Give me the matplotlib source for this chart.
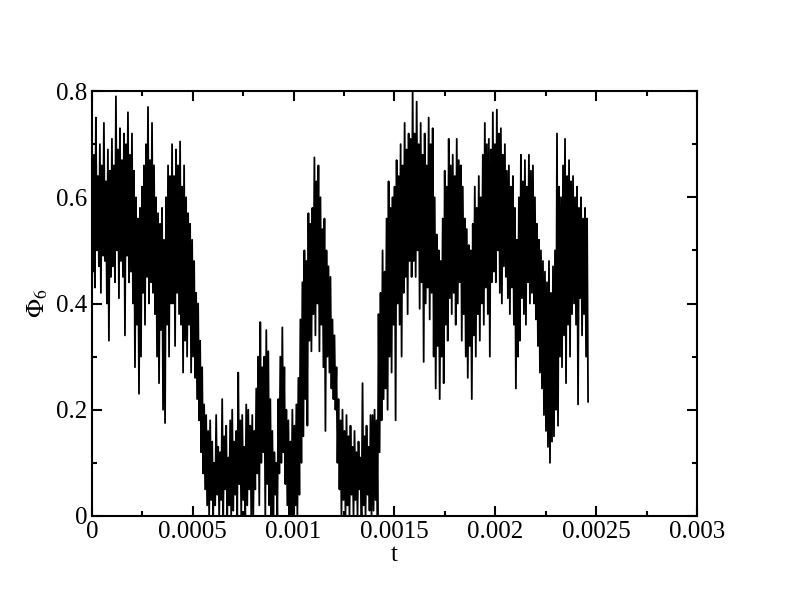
import matplotlib
matplotlib.use("Agg")
import matplotlib.pyplot as plt
import numpy as np

plt.rcParams['font.family'] = ['Liberation Serif', 'DejaVu Serif']
plt.rcParams['mathtext.fontset'] = 'stix'

# Phi_6, one row per 1e-4 in t (20 samples each)
phi6 = [
    0.60, 0.46, 0.68, 0.43, 0.75, 0.50, 0.64, 0.47, 0.70, 0.42, 0.66, 0.49, 0.74, 0.48, 0.63, 0.40, 0.69, 0.33, 0.65, 0.45,
    0.71, 0.47, 0.66, 0.44, 0.79, 0.50, 0.69, 0.41, 0.73, 0.48, 0.67, 0.45, 0.72, 0.34, 0.70, 0.49, 0.76, 0.44, 0.68, 0.46,
    0.72, 0.40, 0.65, 0.28, 0.60, 0.36, 0.56, 0.23, 0.58, 0.30, 0.62, 0.42, 0.66, 0.36, 0.70, 0.45, 0.77, 0.40, 0.67, 0.44,
    0.74, 0.42, 0.66, 0.38, 0.60, 0.30, 0.57, 0.25, 0.55, 0.35, 0.58, 0.20, 0.52, 0.175, 0.60, 0.36, 0.66, 0.30, 0.64, 0.40,
    0.70, 0.40, 0.64, 0.32, 0.69, 0.42, 0.66, 0.38, 0.705, 0.36, 0.62, 0.27, 0.66, 0.33, 0.60, 0.30, 0.57, 0.36, 0.55, 0.27,
    0.52, 0.30, 0.48, 0.26, 0.42, 0.22, 0.40, 0.18, 0.33, 0.12, 0.28, 0.08, 0.21, 0.05, 0.19, 0.02, 0.16, 0.0, 0.18, 0.03,
    0.14, 0.0, 0.10, 0.02, 0.19, 0.04, 0.13, 0.0, 0.12, 0.03, 0.22, 0.0, 0.15, 0.05, 0.17, 0.0, 0.11, 0.02, 0.18, 0.0,
    0.20, 0.01, 0.14, 0.04, 0.16, 0.0, 0.27, 0.06, 0.18, 0.0, 0.19, 0.03, 0.13, 0.0, 0.21, 0.02, 0.20, 0.05, 0.17, 0.0,
    0.19, 0.0, 0.16, 0.05, 0.24, 0.08, 0.30, 0.02, 0.365, 0.10, 0.28, 0.12, 0.30, 0.0, 0.35, 0.06, 0.31, 0.02, 0.22, 0.0,
    0.16, 0.0, 0.12, 0.04, 0.10, 0.0, 0.22, 0.08, 0.30, 0.10, 0.355, 0.12, 0.28, 0.06, 0.20, 0.02, 0.18, 0.0, 0.14, 0.0,
    0.20, 0.0, 0.17, 0.02, 0.21, 0.0, 0.26, 0.04, 0.37, 0.10, 0.44, 0.15, 0.50, 0.22, 0.48, 0.17, 0.57, 0.33, 0.55, 0.31,
    0.58, 0.38, 0.675, 0.34, 0.63, 0.40, 0.66, 0.31, 0.60, 0.36, 0.54, 0.28, 0.56, 0.16, 0.50, 0.30, 0.47, 0.27, 0.45, 0.24,
    0.37, 0.22, 0.34, 0.20, 0.28, 0.10, 0.22, 0.05, 0.18, 0.0, 0.20, 0.03, 0.16, 0.0, 0.19, 0.02, 0.15, 0.0, 0.17, 0.04,
    0.13, 0.0, 0.16, 0.03, 0.12, 0.0, 0.14, 0.05, 0.11, 0.0, 0.25, 0.02, 0.15, 0.0, 0.17, 0.04, 0.13, 0.01, 0.19, 0.0,
    0.19, 0.01, 0.20, 0.03, 0.18, 0.0, 0.38, 0.12, 0.42, 0.18, 0.50, 0.22, 0.46, 0.24, 0.56, 0.20, 0.63, 0.30, 0.58, 0.27,
    0.60, 0.36, 0.62, 0.18, 0.67, 0.40, 0.64, 0.36, 0.70, 0.30, 0.66, 0.42, 0.74, 0.45, 0.69, 0.38, 0.72, 0.48, 0.71, 0.45,
    0.80, 0.48, 0.72, 0.45, 0.78, 0.50, 0.70, 0.39, 0.74, 0.44, 0.68, 0.29, 0.72, 0.40, 0.66, 0.43, 0.75, 0.37, 0.70, 0.42,
    0.73, 0.30, 0.60, 0.24, 0.53, 0.32, 0.50, 0.22, 0.48, 0.30, 0.56, 0.25, 0.65, 0.36, 0.62, 0.33, 0.71, 0.41, 0.66, 0.38,
    0.68, 0.42, 0.64, 0.36, 0.71, 0.40, 0.67, 0.44, 0.66, 0.33, 0.62, 0.38, 0.56, 0.30, 0.54, 0.26, 0.51, 0.32, 0.50, 0.22,
    0.55, 0.34, 0.62, 0.30, 0.58, 0.38, 0.64, 0.33, 0.60, 0.40, 0.68, 0.36, 0.74, 0.43, 0.70, 0.38, 0.71, 0.30, 0.69, 0.44,
    0.76, 0.46, 0.70, 0.44, 0.765, 0.50, 0.72, 0.42, 0.73, 0.40, 0.68, 0.47, 0.70, 0.45, 0.65, 0.41, 0.66, 0.38, 0.62, 0.43,
    0.64, 0.36, 0.58, 0.24, 0.52, 0.30, 0.60, 0.33, 0.68, 0.41, 0.63, 0.38, 0.67, 0.36, 0.62, 0.44, 0.68, 0.40, 0.65, 0.42,
    0.66, 0.40, 0.60, 0.37, 0.55, 0.32, 0.52, 0.27, 0.50, 0.24, 0.48, 0.19, 0.46, 0.16, 0.44, 0.13, 0.48, 0.10, 0.42, 0.14,
    0.47, 0.15, 0.50, 0.20, 0.72, 0.17, 0.62, 0.30, 0.60, 0.28, 0.66, 0.34, 0.71, 0.25, 0.64, 0.36, 0.67, 0.30, 0.63, 0.38,
    0.64, 0.40, 0.60, 0.36, 0.62, 0.21, 0.58, 0.41, 0.60, 0.34, 0.56, 0.38, 0.58, 0.30, 0.56, 0.215,
]
dt = 4.97e-6
t = np.arange(len(phi6)) * dt

xticks = [0, 0.0005, 0.001, 0.0015, 0.002, 0.0025, 0.003]
xticklabels = ['0', '0.0005', '0.001', '0.0015', '0.002', '0.0025', '0.003']
yticks = [0, 0.2, 0.4, 0.6, 0.8]
yticklabels = ['0', '0.2', '0.4', '0.6', '0.8']

fig = plt.figure(figsize=(7.92, 6.07), dpi=100)
ax = fig.add_axes([0.116, 0.150, 0.764, 0.700])

ax.plot(t, phi6, color='black', lw=1.3)

ax.set_xlim(0, 0.003)
ax.set_ylim(0, 0.8)
ax.set_xticks(xticks)
ax.set_xticklabels(xticklabels)
ax.set_yticks(yticks)
ax.set_yticklabels(yticklabels)
ax.set_xticks(np.arange(0.00025, 0.003, 0.0005), minor=True)
ax.set_yticks([0.1, 0.3, 0.5, 0.7], minor=True)

ax.tick_params(which='both', direction='in', top=True, right=True,
               labelsize=18, width=1.5)
ax.tick_params(which='major', length=7)
ax.tick_params(which='minor', length=3.5)
for s in ax.spines.values():
    s.set_linewidth(1.5)

ax.set_xlabel('t', fontsize=18, labelpad=1)
ax.set_ylabel(r'$\Phi_6$', fontsize=18)

fig.savefig('out.png', dpi=100)
